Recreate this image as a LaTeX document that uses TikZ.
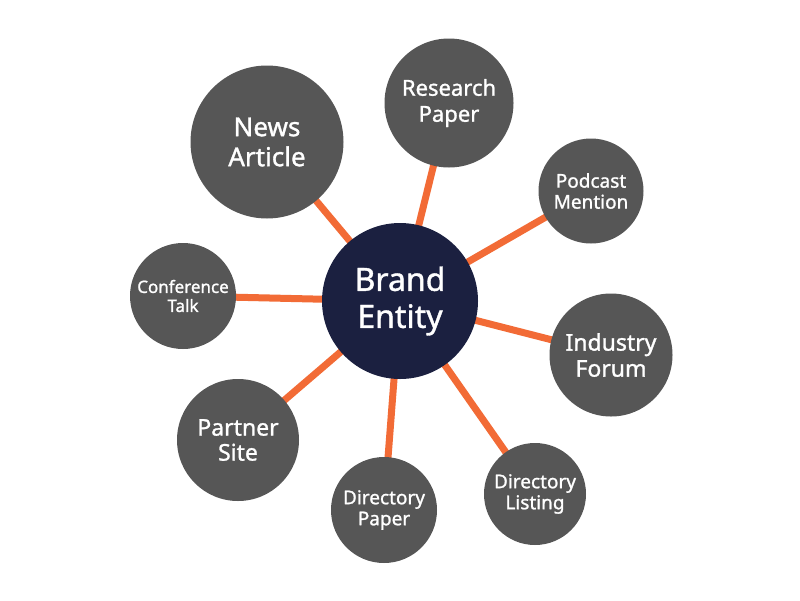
\documentclass[tikz,border=0pt]{standalone}
\usepackage{fontspec}
\setmainfont{Noto Sans}[FakeBold=1.2]
\usetikzlibrary{backgrounds}
\definecolor{hubnavy}{HTML}{1B2040}
\definecolor{leafgray}{HTML}{565656}
\definecolor{linkorange}{HTML}{F26B36}

\begin{document}
\begin{tikzpicture}[x=1pt,y=-1pt,
  leaf/.style={circle,fill=leafgray,text=white,align=center,inner sep=0pt},
  link/.style={linkorange,line width=7pt}]
\useasboundingbox (0,0) rectangle (800,600);
\node[circle,fill=hubnavy,text=white,align=center,inner sep=0pt,minimum size=156pt,
  font=\fontsize{32}{37}\selectfont] (brand) at (400,301) {Brand\\Entity};
\node[leaf,minimum size=153pt,font=\fontsize{26}{30}\selectfont] (news) at (267,142) {News\\Article};
\node[leaf,minimum size=129pt,font=\fontsize{22}{26}\selectfont] (research) at (449,103) {Research\\Paper};
\node[leaf,minimum size=105pt,font=\fontsize{19}{21}\selectfont] (podcast) at (591,191) {Podcast\\Mention};
\node[leaf,minimum size=123pt,font=\fontsize{23}{26}\selectfont] (forum) at (611,355) {Industry\\Forum};
\node[leaf,minimum size=102pt,font=\fontsize{19}{21}\selectfont] (listing) at (535,494) {Directory\\Listing};
\node[leaf,minimum size=106pt,font=\fontsize{19}{21}\selectfont] (dirpaper) at (384,510) {Directory\\Paper};
\node[leaf,minimum size=122pt,font=\fontsize{23}{25}\selectfont] (partner) at (238,440) {Partner\\Site};
\node[leaf,minimum size=106pt,font=\fontsize{17}{19}\selectfont] (talk) at (183,296) {Conference\\Talk};
\begin{scope}[on background layer]
\foreach \n in {news,research,podcast,forum,listing,dirpaper,partner,talk}
  \draw[link] (brand.center) -- (\n.center);
\end{scope}
\end{tikzpicture}
\end{document}
